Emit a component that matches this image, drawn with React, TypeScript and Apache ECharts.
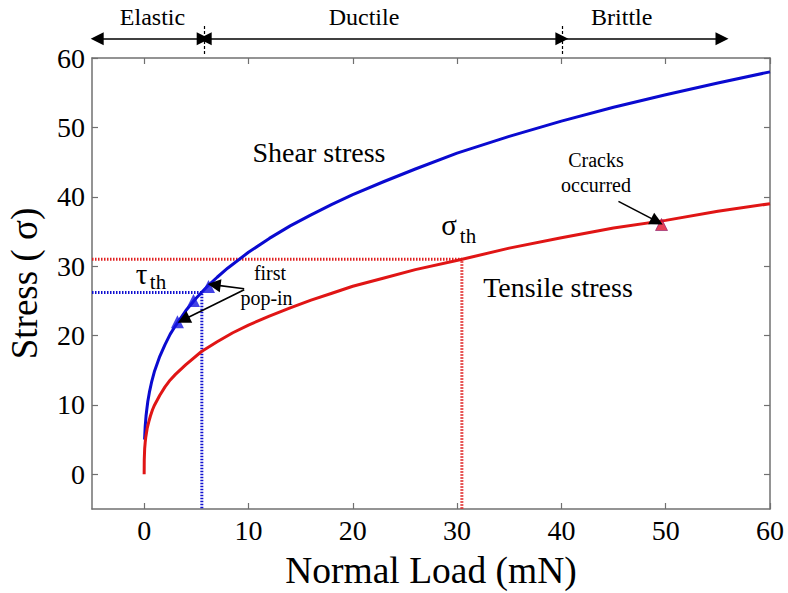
import React, { useEffect, useRef } from "react";
import * as echarts from "echarts";

const FONT = "Liberation Serif, Times New Roman, serif";

// Axis ticks
const xTicks = [0, 10, 20, 30, 40, 50, 60];
const yTicks = [0, 10, 20, 30, 40, 50, 60];

// Shear stress curve (blue)
const shearLoad = [0.04, 0.1, 0.18, 0.25, 0.35, 0.5, 0.7, 1, 1.5, 2, 2.5, 3, 4, 5, 6, 7, 8, 10, 12, 14, 16, 18, 20, 23, 26, 30, 35, 40, 45, 50, 55, 60];
const shearStress = [5.0, 6.9, 8.4, 9.3, 10.5, 11.8, 13.2, 14.9, 17.0, 18.7, 20.2, 21.4, 23.6, 25.4, 27.0, 28.4, 29.7, 32.0, 34.0, 35.8, 37.4, 38.9, 40.3, 42.2, 44.0, 46.3, 48.7, 50.9, 52.9, 54.7, 56.4, 58.0];

// Tensile stress curve (red)
const tensileLoad = [0, 0.01, 0.05, 0.1, 0.15, 0.3, 0.45, 0.6, 0.8, 1, 1.5, 2, 2.5, 3, 4, 5.5, 7, 8.5, 10, 12, 14, 16, 18, 20, 23, 26, 30.5, 35, 40, 45, 50, 55, 60];
const tensileStress = [0, 2.1, 3.7, 4.6, 5.3, 6.7, 7.6, 8.4, 9.3, 10.0, 11.4, 12.6, 13.6, 14.4, 15.8, 17.7, 19.1, 20.4, 21.5, 22.8, 24.0, 25.1, 26.1, 27.1, 28.3, 29.5, 31.0, 32.6, 34.1, 35.5, 36.6, 37.9, 39.0];

// Thresholds
const tauThLoad = 5.53;
const tauTh = 26.2;
const sigmaThLoad = 30.46;
const sigmaTh = 31.0;

// First pop-in markers (blue triangles)
const popInLoad = [3.19, 4.73, 6.17];
const popInStress = [22.0, 25.05, 27.07];

// Crack marker (red triangle)
const crackLoad = [49.6];
const crackStress = [36.0];

// Regime boundaries (top)
const regimeY = 62.77;
const elasticRange = [-4.5, 5.66];
const ductileRange = [5.85, 40.05];
const brittleRange = [40.17, 55.4];
const boundaries = [5.75, 40.07];

const zip = (xs: number[], ys: number[]) => xs.map((x, i) => [x, ys[i]]);

export default function App() {
  const ref = useRef<HTMLDivElement>(null);
  useEffect(() => {
    document.body.style.margin = "0";
    const chart = echarts.init(ref.current!, null, { renderer: "svg" });
    const axisLine = { show: true, onZero: false, lineStyle: { color: "#707070", width: 1.5 } };
    const tickStyle = { color: "#707070", width: 1.2 };
    const arrowLine = { color: "#000", width: 1.6, opacity: 1 };
    const text = (t: string, x: number, y: number, size: number) => ({
      type: "text",
      x,
      y,
      silent: true,
      style: { text: t, fill: "#000", fontSize: size, fontFamily: FONT, align: "center", verticalAlign: "middle" },
    });
    chart.setOption({
      animation: false,
      backgroundColor: "#fff",
      grid: { left: 92, top: 58, right: 18, bottom: 84, containLabel: false, outerBoundsMode: "none" },
      xAxis: [
        {
          type: "value",
          min: -5,
          max: 60,
          position: "bottom",
          axisLine,
          axisTick: { show: true, inside: true, length: 6, customValues: xTicks, lineStyle: tickStyle },
          axisLabel: { customValues: xTicks, fontSize: 28, fontFamily: FONT, color: "#000", margin: 7 },
          splitLine: { show: false },
          name: "Normal Load (mN)",
          nameLocation: "middle",
          nameGap: 42,
          nameTextStyle: { fontSize: 37.5, fontFamily: FONT, color: "#000" },
        },
        {
          type: "value",
          min: -5,
          max: 60,
          position: "top",
          axisLine,
          axisTick: { show: true, inside: true, length: 6, customValues: xTicks, lineStyle: tickStyle },
          axisLabel: { show: false },
          splitLine: { show: false },
        },
      ],
      yAxis: [
        {
          type: "value",
          min: -5,
          max: 60,
          position: "left",
          axisLine,
          axisTick: { show: true, inside: true, length: 6, customValues: yTicks, lineStyle: tickStyle },
          axisLabel: { customValues: yTicks, fontSize: 28, fontFamily: FONT, color: "#000", margin: 7 },
          splitLine: { show: false },
          name: "Stress ( σ)",
          nameLocation: "middle",
          nameGap: 49,
          nameTextStyle: { fontSize: 37, fontFamily: FONT, color: "#000" },
        },
        {
          type: "value",
          min: -5,
          max: 60,
          position: "right",
          axisLine,
          axisTick: { show: true, inside: true, length: 6, customValues: yTicks, lineStyle: tickStyle },
          axisLabel: { show: false },
          splitLine: { show: false },
        },
      ],
      series: [
        {
          type: "line",
          data: [[-5, sigmaTh], [sigmaThLoad, sigmaTh], [sigmaThLoad, -5]],
          showSymbol: false,
          lineStyle: { color: "#e02020", width: 3, type: [1.5, 1.5] },
          z: 1,
        },
        {
          type: "line",
          data: [[-5, tauTh], [tauThLoad, tauTh], [tauThLoad, -5]],
          showSymbol: false,
          lineStyle: { color: "#1010d0", width: 3, type: [1.5, 1.5] },
          z: 1,
        },
        {
          type: "line",
          name: "Shear stress",
          data: zip(shearLoad, shearStress),
          showSymbol: false,
          smooth: false,
          lineStyle: { color: "#0a0ad0", width: 3, join: "round" },
          z: 2,
        },
        {
          type: "line",
          name: "Tensile stress",
          data: zip(tensileLoad, tensileStress),
          showSymbol: false,
          smooth: false,
          lineStyle: { color: "#e01515", width: 3, join: "round" },
          z: 2,
        },
        {
          type: "scatter",
          data: zip(popInLoad, popInStress),
          symbol: "triangle",
          symbolSize: 13,
          itemStyle: { color: "#1515e0" },
          z: 4,
        },
        {
          type: "scatter",
          data: zip(crackLoad, crackStress),
          symbol: "triangle",
          symbolSize: 12,
          itemStyle: { color: "#e0102a", borderColor: "#8a1a6a", borderWidth: 0.8 },
          z: 4,
        },
        {
          type: "lines",
          coordinateSystem: "cartesian2d",
          clip: false,
          symbol: ["triangle", "triangle"],
          symbolSize: 13,
          lineStyle: arrowLine,
          itemStyle: { color: "#000", opacity: 1 },
          data: [
            { coords: [[elasticRange[0], regimeY], [elasticRange[1], regimeY]] },
            { coords: [[ductileRange[0], regimeY], [ductileRange[1], regimeY]] },
          ],
          z: 5,
        },
        {
          type: "lines",
          coordinateSystem: "cartesian2d",
          clip: false,
          symbol: ["none", "triangle"],
          symbolSize: 13,
          lineStyle: arrowLine,
          itemStyle: { color: "#000", opacity: 1 },
          data: [
            { coords: [[brittleRange[0], regimeY], [brittleRange[1], regimeY]] },
            { coords: [[9.59, 26.74], [6.71, 27.3]] },
            { coords: [[9.59, 26.6], [3.77, 22.27]] },
            { coords: [[45.47, 39.34], [49.16, 36.45]] },
          ],
          z: 5,
        },
        {
          type: "lines",
          coordinateSystem: "cartesian2d",
          clip: false,
          symbol: ["none", "none"],
          lineStyle: { color: "#000", width: 1.2, type: [3, 2], opacity: 1 },
          data: boundaries.map((b) => ({ coords: [[b, 64.6], [b, 60.4]] })),
          z: 5,
        },
      ],
      graphic: [
        text("Elastic", 152.5, 17, 24),
        text("Ductile", 364, 17, 24),
        text("Brittle", 621.7, 17, 24),
        text("Shear stress", 319, 152, 28),
        text("Tensile stress", 558, 287, 28),
        text("σ", 449, 225, 29),
        text("th", 468, 236, 21),
        text("τ", 141.5, 274, 29),
        text("th", 158, 282, 21),
        text("first", 270, 273, 20),
        text("pop-in", 266.5, 298, 20),
        text("Cracks", 596, 160, 20),
        text("occurred", 596, 185, 20),
      ],
    });
    return () => chart.dispose();
  }, []);
  return <div ref={ref} style={{ width: 788, height: 593 }} />;
}
